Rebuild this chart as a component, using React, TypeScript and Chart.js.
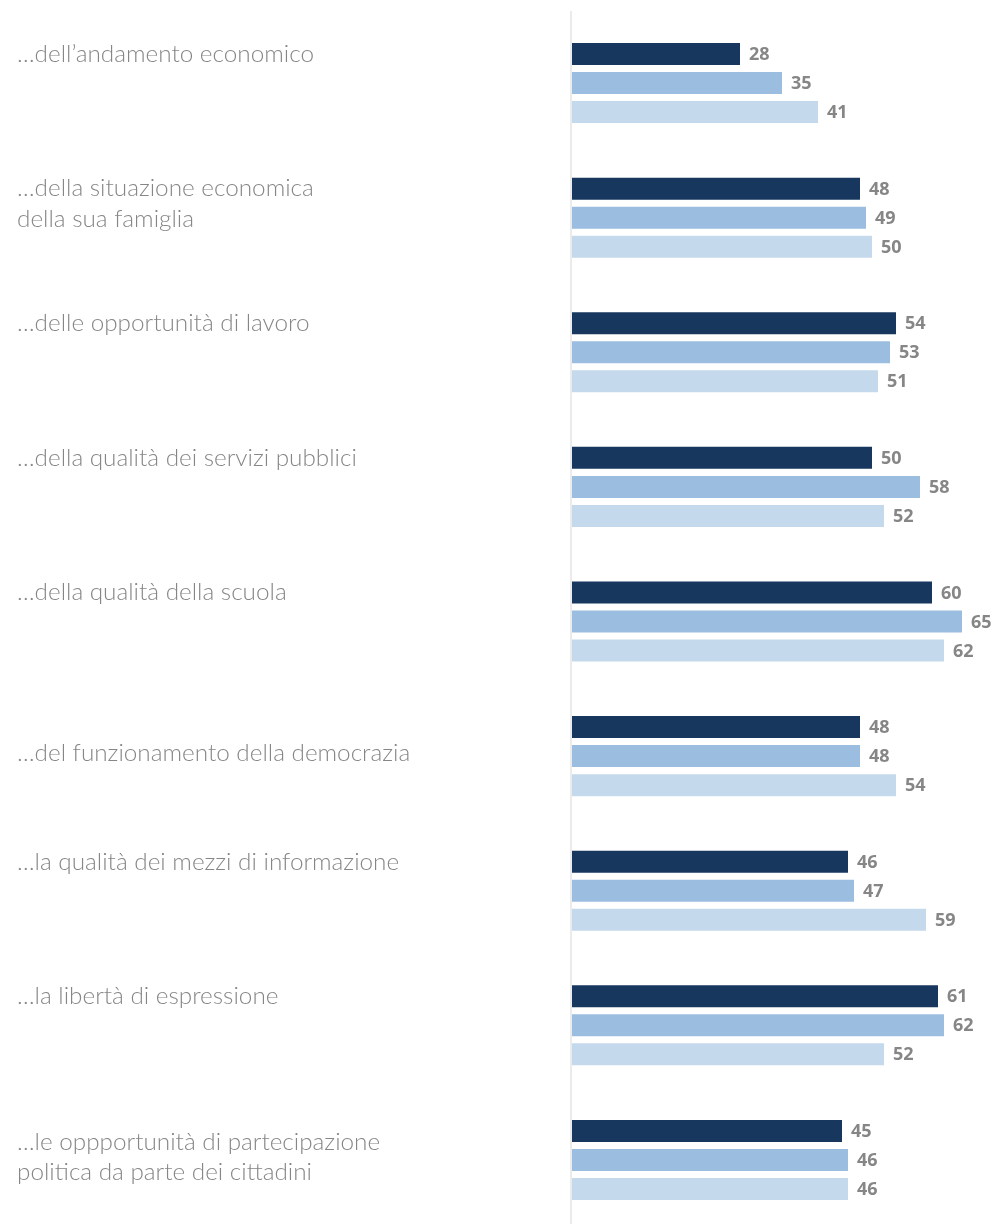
import React, { useEffect, useRef } from "react";
import { Chart, registerables } from "chart.js";

Chart.register(...registerables);

const categories: string[][] = [
  ["…dell’andamento economico"],
  ["…della situazione economica", "della sua famiglia"],
  ["…delle opportunità di lavoro"],
  ["…della qualità dei servizi pubblici"],
  ["…della qualità della scuola"],
  ["…del funzionamento della democrazia"],
  ["…la qualità dei mezzi di informazione"],
  ["…la libertà di espressione"],
  ["…le oppportunità di partecipazione", "politica da parte dei cittadini"],
];

// label anchoring mode per category: "bar" = first line on first bar, "center" = block centered on group
const labelAnchors: string[] = ["bar", "bar", "bar", "bar", "bar", "center", "bar", "bar", "center"];

const seriesNames: string[] = ["Serie 1", "Serie 2", "Serie 3"];
const series1: number[] = [28, 48, 54, 50, 60, 48, 46, 61, 45];
const series2: number[] = [35, 49, 53, 58, 65, 48, 47, 62, 46];
const series3: number[] = [41, 50, 51, 52, 62, 54, 59, 52, 46];
const seriesColors: string[] = ["#17375e", "#9bbde0", "#c4d9ec"];

const LABEL_FONT = "300 24.3px Lato, 'Open Sans', sans-serif";
const VALUE_FONT = "bold 18px 'Open Sans', Lato, sans-serif";
const TEXT_COLOR = "#868686";

const overlayPlugin = {
  id: "overlay",
  beforeDatasetsDraw(chart: any) {
    const { ctx, chartArea } = chart;
    ctx.save();
    ctx.strokeStyle = "#ebebeb";
    ctx.lineWidth = 2;
    ctx.beginPath();
    ctx.moveTo(chartArea.left - 1, 11);
    ctx.lineTo(chartArea.left - 1, chart.height);
    ctx.stroke();
    ctx.restore();
  },
  afterDatasetsDraw(chart: any) {
    const { ctx } = chart;
    ctx.save();
    ctx.font = VALUE_FONT;
    ctx.fillStyle = TEXT_COLOR;
    ctx.textAlign = "left";
    ctx.textBaseline = "middle";
    chart.data.datasets.forEach((ds: any, di: number) => {
      const meta = chart.getDatasetMeta(di);
      meta.data.forEach((el: any, i: number) => {
        ctx.fillText(String(ds.data[i]), el.x + 9, el.y + 1);
      });
    });
    ctx.font = LABEL_FONT;
    const lineH = 30.5;
    const first = chart.getDatasetMeta(0);
    const yScale = chart.scales.y;
    categories.forEach((lines, i) => {
      let y0: number;
      if (labelAnchors[i] === "center") {
        const c = yScale.getPixelForValue(i);
        y0 = c - ((lines.length - 1) * lineH) / 2 - 3;
      } else {
        y0 = first.data[i].y;
      }
      lines.forEach((line, li) => {
        ctx.fillText(line, 17, y0 + li * lineH);
      });
    });
    ctx.restore();
  },
};

export default function App() {
  const ref = useRef<HTMLCanvasElement | null>(null);
  useEffect(() => {
    if (!ref.current) return;
    const chart = new Chart(ref.current, {
      type: "bar",
      data: {
        labels: categories.map((c) => c.join(" ")),
        datasets: [series1, series2, series3].map((d, i) => ({
          label: seriesNames[i],
          data: d,
          backgroundColor: seriesColors[i],
          borderWidth: 0,
          barPercentage: 22 / 29,
          categoryPercentage: 87 / 134.6,
        })),
      },
      options: {
        indexAxis: "y",
        responsive: false,
        animation: false,
        devicePixelRatio: 1,
        layout: { padding: { left: 572, right: 5, top: 15.7, bottom: 12.7 } },
        plugins: { legend: { display: false }, tooltip: { enabled: false } },
        scales: {
          x: { display: false, min: 0, max: 70 },
          y: { display: false },
        },
      },
      plugins: [overlayPlugin],
    } as any);
    return () => chart.destroy();
  }, []);
  return (
    <div style={{ position: "absolute", left: 0, top: 0, width: 997, height: 1224, overflow: "hidden", background: "#fff" }}>
      <canvas ref={ref} width={997} height={1240} style={{ display: "block" }} />
    </div>
  );
}
